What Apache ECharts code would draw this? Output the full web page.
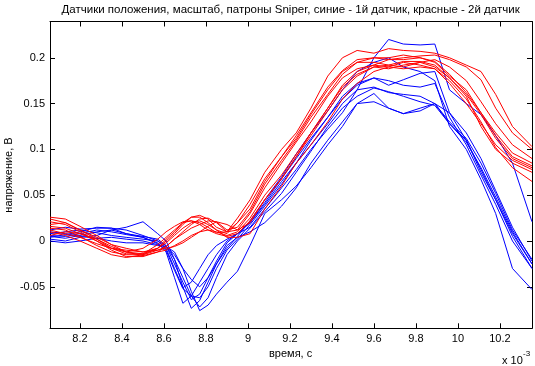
<!DOCTYPE html>
<html>
<head>
<meta charset="utf-8">
<script src="https://cdn.jsdelivr.net/npm/echarts@6/dist/echarts.min.js"></script>
<style>html,body{margin:0;padding:0;background:#fff}#c{width:535px;height:366px}</style>
</head>
<body>
<div id="c"></div>
<script>
const titleText = 'Датчики положения, масштаб, патроны Sniper, синие - 1й датчик, красные - 2й датчик';
const xName = 'время, с';
const yName = 'напряжение, В';
const xTicks = [8.2, 8.4, 8.6, 8.8, 9, 9.2, 9.4, 9.6, 9.8, 10, 10.2];
const yTicks = [-0.05, 0, 0.05, 0.1, 0.15, 0.2];

// time, units of 1e-3 s
const time = [8.057, 8.13, 8.20, 8.28, 8.35, 8.42, 8.50,
              8.57, 8.61, 8.65, 8.69, 8.73, 8.77, 8.81, 8.85, 8.90, 8.95, 9.01,
              9.08, 9.16, 9.23, 9.30, 9.38, 9.45, 9.52, 9.60, 9.67, 9.74, 9.82, 9.89, 9.96, 10.04, 10.11, 10.18, 10.26, 10.353];

// sensor 1 (blue)
const blue1 = [0.008, 0.010, 0.012, 0.009, 0.006, 0.004, 0.002,
               0.000, -0.008, -0.030, -0.051, -0.045, -0.030, -0.015, -0.005, 0.002, 0.008, 0.015,
               0.035, 0.058, 0.078, 0.100, 0.122, 0.140, 0.165, 0.200, 0.220, 0.215, 0.214, 0.215, 0.165, 0.150, 0.138, 0.115, 0.085, 0.021];
const blue2 = [0.005, 0.003, 0.006, 0.010, 0.012, 0.008, 0.004,
               -0.002, -0.012, -0.040, -0.068, -0.060, -0.045, -0.030, -0.015, 0.000, 0.008, 0.020,
               0.040, 0.065, 0.085, 0.105, 0.128, 0.150, 0.165, 0.168, 0.162, 0.160, 0.158, 0.150, 0.128, 0.108, 0.080, 0.048, 0.010, -0.025];
const blue3 = [0.002, 0.000, 0.004, 0.006, 0.012, 0.015, 0.021,
               0.008, 0.000, -0.020, -0.050, -0.0735, -0.065, -0.045, -0.025, -0.005, 0.004, 0.010,
               0.020, 0.038, 0.058, 0.085, 0.110, 0.130, 0.150, 0.152, 0.145, 0.139, 0.145, 0.150, 0.130, 0.112, 0.085, 0.052, 0.012, -0.020];
const blue4 = [0.010, 0.008, 0.005, 0.003, 0.000, -0.002, -0.002,
               -0.005, -0.006, -0.012, -0.030, -0.055, -0.076, -0.070, -0.058, -0.045, -0.033, -0.005,
               0.030, 0.045, 0.060, 0.080, 0.105, 0.125, 0.150, 0.161, 0.145, 0.139, 0.142, 0.150, 0.140, 0.118, 0.090, 0.055, 0.015, -0.022];
const blue5 = [0.012, 0.015, 0.013, 0.014, 0.014, 0.008, 0.005,
               0.002, -0.005, -0.025, -0.045, -0.064, -0.058, -0.040, -0.022, -0.002, 0.008, 0.020,
               0.042, 0.068, 0.090, 0.112, 0.135, 0.158, 0.172, 0.178, 0.170, 0.176, 0.183, 0.185, 0.140, 0.110, 0.075, 0.045, 0.005, -0.030];
const blue6 = [0.000, -0.002, 0.000, 0.003, 0.004, 0.002, 0.000,
               -0.004, -0.006, -0.015, -0.030, -0.042, -0.050, -0.040, -0.025, -0.008, 0.005, 0.022,
               0.045, 0.070, 0.095, 0.118, 0.142, 0.165, 0.185, 0.195, 0.200, 0.190, 0.185, 0.175, 0.125, 0.100, 0.067, 0.030, -0.030, -0.053];
const blue7 = [0.006, 0.005, 0.008, 0.012, 0.010, 0.007, 0.004,
               -0.003, -0.010, -0.032, -0.052, -0.060, -0.062, -0.050, -0.030, -0.010, 0.002, 0.018,
               0.038, 0.062, 0.085, 0.110, 0.135, 0.155, 0.170, 0.178, 0.175, 0.170, 0.168, 0.172, 0.135, 0.105, 0.072, 0.040, 0.000, -0.030];
const blue8 = [0.004, 0.007, 0.010, 0.015, 0.014, 0.012, 0.006,
               0.000, -0.005, -0.020, -0.040, -0.060, -0.072, -0.062, -0.040, -0.015, 0.000, 0.014,
               0.032, 0.052, 0.075, 0.098, 0.125, 0.145, 0.158, 0.167, 0.163, 0.158, 0.152, 0.148, 0.128, 0.110, 0.078, 0.045, 0.008, -0.025];

// sensor 2 (red)
const red1 = [0.018, 0.020, 0.012, 0.002, -0.008, -0.012, -0.008,
              0.002, 0.010, 0.016, 0.021, 0.022, 0.020, 0.015, 0.009, 0.010, 0.025, 0.045,
              0.075, 0.100, 0.118, 0.145, 0.180, 0.200, 0.208, 0.205, 0.210, 0.208, 0.207, 0.205, 0.200, 0.192, 0.185, 0.160, 0.125, 0.103];
const red2 = [0.026, 0.024, 0.016, 0.006, -0.004, -0.012, -0.014,
              -0.008, 0.000, 0.008, 0.018, 0.026, 0.028, 0.024, 0.015, 0.010, 0.020, 0.040,
              0.068, 0.092, 0.112, 0.138, 0.165, 0.185, 0.195, 0.195, 0.192, 0.196, 0.196, 0.192, 0.178, 0.158, 0.125, 0.100, 0.085, 0.075];
const red3 = [0.014, 0.012, 0.005, -0.005, -0.012, -0.015, -0.015,
              -0.010, -0.006, 0.002, 0.010, 0.018, 0.024, 0.025, 0.020, 0.010, 0.012, 0.030,
              0.058, 0.085, 0.108, 0.130, 0.158, 0.178, 0.188, 0.192, 0.190, 0.195, 0.192, 0.188, 0.172, 0.150, 0.128, 0.105, 0.088, 0.078];
const red4 = [0.021, 0.018, 0.010, 0.000, -0.010, -0.017, -0.017,
              -0.012, -0.006, 0.002, 0.008, 0.014, 0.018, 0.022, 0.021, 0.012, 0.015, 0.032,
              0.062, 0.088, 0.110, 0.135, 0.160, 0.182, 0.195, 0.200, 0.198, 0.198, 0.200, 0.195, 0.180, 0.165, 0.140, 0.115, 0.092, 0.082];
const red5 = [0.006, 0.010, 0.008, 0.002, -0.006, -0.012, -0.016,
              -0.012, -0.010, -0.005, 0.000, 0.006, 0.010, 0.012, 0.010, 0.006, 0.010, 0.025,
              0.050, 0.072, 0.095, 0.118, 0.145, 0.168, 0.182, 0.190, 0.188, 0.192, 0.195, 0.190, 0.178, 0.160, 0.138, 0.112, 0.090, 0.080];
const red6 = [0.012, 0.008, 0.004, -0.003, -0.008, -0.010, -0.012,
              -0.010, -0.008, -0.006, -0.002, 0.004, 0.010, 0.016, 0.021, 0.018, 0.012, 0.020,
              0.045, 0.068, 0.092, 0.115, 0.142, 0.165, 0.180, 0.190, 0.192, 0.190, 0.195, 0.198, 0.190, 0.175, 0.152, 0.128, 0.105, 0.090];
const red7 = [0.010, 0.006, 0.000, -0.008, -0.015, -0.018, -0.015,
              -0.008, -0.002, 0.006, 0.014, 0.020, 0.022, 0.018, 0.012, 0.004, 0.004, 0.008,
              0.035, 0.060, 0.085, 0.105, 0.130, 0.155, 0.172, 0.185, 0.190, 0.188, 0.190, 0.188, 0.175, 0.155, 0.130, 0.102, 0.080, 0.065];
const red8 = [0.024, 0.020, 0.012, 0.004, -0.004, -0.008, -0.012,
              -0.008, 0.002, 0.010, 0.020, 0.026, 0.026, 0.020, 0.012, 0.008, 0.020, 0.035,
              0.065, 0.092, 0.115, 0.140, 0.168, 0.186, 0.198, 0.200, 0.200, 0.203, 0.200, 0.196, 0.182, 0.162, 0.140, 0.118, 0.096, 0.085];
const red9 = [0.016, 0.014, 0.008, 0.000, -0.008, -0.014, -0.014,
              -0.004, 0.004, 0.012, 0.020, 0.022, 0.018, 0.012, 0.008, 0.005, 0.008, 0.022,
              0.045, 0.068, 0.092, 0.118, 0.145, 0.170, 0.185, 0.192, 0.198, 0.200, 0.202, 0.203, 0.198, 0.190, 0.176, 0.145, 0.118, 0.100];

const blueSeries = [blue1, blue2, blue3, blue4, blue5, blue6, blue7, blue8];
const redSeries = [red1, red2, red3, red4, red5, red6, red7, red8, red9];

const FONT = '"Liberation Sans", Arial, Helvetica, sans-serif';
function mk(vals, color) {
  return {
    type: 'line', data: vals.map((v, i) => [time[i], v]), showSymbol: false, symbol: 'none',
    lineStyle: { color: color, width: 1 }, itemStyle: { color: color }, clip: true, silent: true
  };
}
const series = blueSeries.map(s => mk(s, '#0000ff')).concat(redSeries.map(s => mk(s, '#ff0000')));

const XMIN = 8.057, XMAX = 10.353, YMIN = -0.0953, YMAX = 0.2396;
const axisCommon = {
  axisLine: { show: true, onZero: false, lineStyle: { color: '#000', width: 1 } },
  splitLine: { show: false }
};
const chart = echarts.init(document.getElementById('c'), null, { renderer: 'canvas' });
chart.setOption({
  animation: false,
  backgroundColor: '#fff',
  grid: { left: 50, right: 3, top: 21.5, bottom: 37.7 },
  xAxis: [
    Object.assign({ type: 'value', min: XMIN, max: XMAX, position: 'bottom',
      axisTick: { show: true, inside: true, length: 5, customValues: xTicks, lineStyle: { color: '#000' } },
      axisLabel: { show: true, customValues: xTicks, color: '#000', fontSize: 11, fontFamily: FONT, margin: 5,
        formatter: v => String(+(+v).toFixed(1)) } }, axisCommon),
    Object.assign({ type: 'value', min: XMIN, max: XMAX, position: 'top',
      axisTick: { show: true, inside: true, length: 5, customValues: xTicks, lineStyle: { color: '#000' } },
      axisLabel: { show: false } }, axisCommon)
  ],
  yAxis: [
    Object.assign({ type: 'value', min: YMIN, max: YMAX, position: 'left',
      axisTick: { show: true, inside: true, length: 5, customValues: yTicks, lineStyle: { color: '#000' } },
      axisLabel: { show: true, customValues: yTicks, color: '#000', fontSize: 11, fontFamily: FONT, margin: 5,
        formatter: v => String(+(+v).toFixed(2)) } }, axisCommon),
    Object.assign({ type: 'value', min: YMIN, max: YMAX, position: 'right',
      axisTick: { show: true, inside: true, length: 5, customValues: yTicks, lineStyle: { color: '#000' } },
      axisLabel: { show: false } }, axisCommon)
  ],
  series: series,
  graphic: [
    { type: 'text', x: 290.6, y: 3.5, silent: true,
      style: { text: titleText, font: '11.5px ' + FONT, fill: '#000', align: 'center', verticalAlign: 'top' } },
    { type: 'text', x: 290.6, y: 348, silent: true,
      style: { text: xName, font: '11px ' + FONT, fill: '#000', align: 'center', verticalAlign: 'top' } },
    { type: 'text', x: 9, y: 175, rotation: Math.PI / 2, silent: true,
      style: { text: yName, font: '11px ' + FONT, fill: '#000', align: 'center', verticalAlign: 'middle' } },
    { type: 'text', x: 502, y: 361, silent: true,
      style: { text: 'x 10', font: '11px ' + FONT, fill: '#000', align: 'left', verticalAlign: 'middle' } },
    { type: 'text', x: 523, y: 354, silent: true,
      style: { text: '-3', font: '8px ' + FONT, fill: '#000', align: 'left', verticalAlign: 'middle' } }
  ]
});
</script>
</body>
</html>
